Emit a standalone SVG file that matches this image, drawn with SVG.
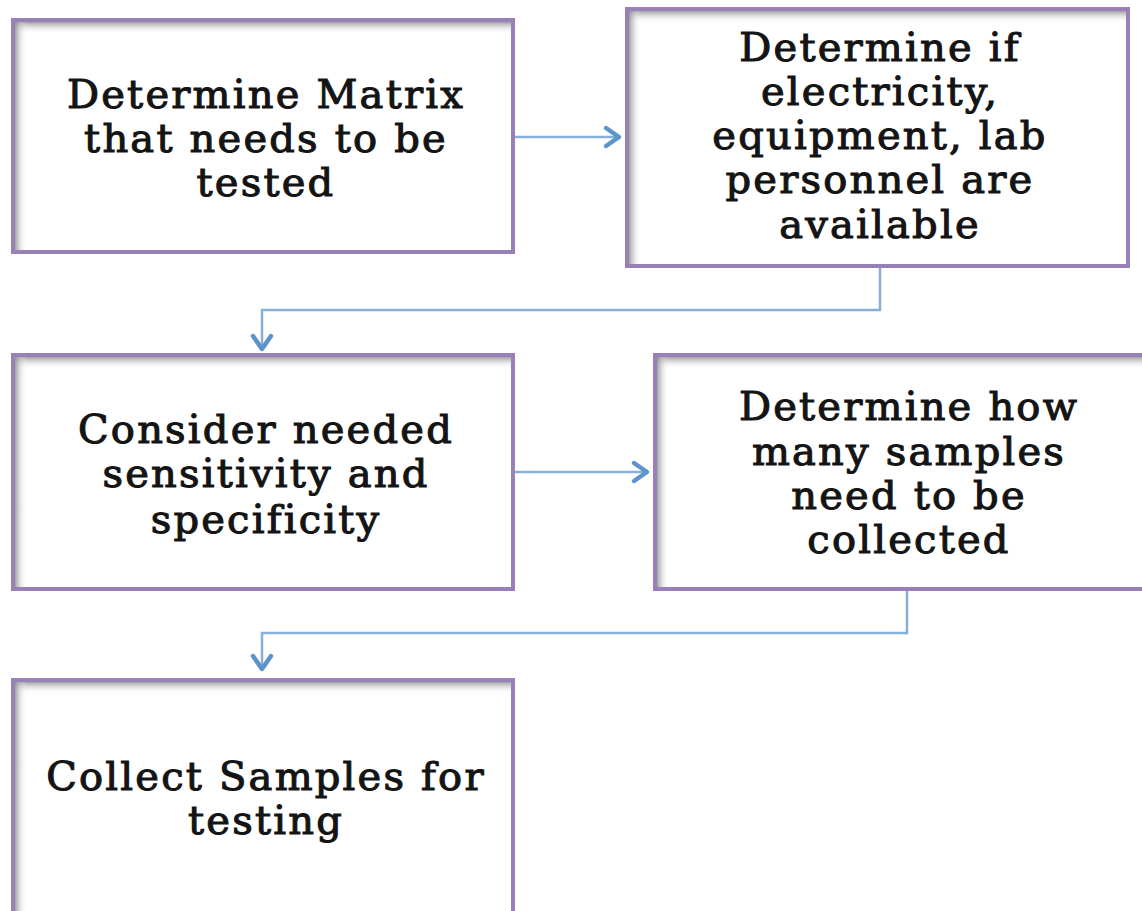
<svg xmlns="http://www.w3.org/2000/svg" width="1142" height="911" viewBox="0 0 1142 911">
  <style>
    .box { fill: #ffffff; stroke: #9a80b8; stroke-width: 4; }
    .label { font-family: "DejaVu Serif", "Liberation Serif", serif; font-size: 40px; letter-spacing: 2.2px; fill: #141414; stroke: #141414; stroke-width: 1.1; text-anchor: middle; }
    .link { fill: none; stroke: #86b0da; stroke-width: 2.5; }
    .head { fill: none; stroke: #5d93cb; stroke-width: 4.5; stroke-linecap: round; stroke-linejoin: round; }
  </style>
  <defs>
    <linearGradient id="shadeTop" x1="0" y1="0" x2="0" y2="1">
      <stop offset="0" stop-color="#8a8a8a" stop-opacity="0.8"/>
      <stop offset="1" stop-color="#ffffff" stop-opacity="0"/>
    </linearGradient>
    <linearGradient id="shadeLeft" x1="0" y1="0" x2="1" y2="0">
      <stop offset="0" stop-color="#8a8a8a" stop-opacity="0.8"/>
      <stop offset="1" stop-color="#ffffff" stop-opacity="0"/>
    </linearGradient>
  </defs>
  <rect width="1142" height="911" fill="#ffffff"/>

  <!-- connectors -->
  <g id="connectors">
    <path class="link" d="M515 137 H619"/>
    <path class="head" d="M606 128 L619 137 L606 146"/>
    <path class="link" d="M880 268 V310 H262 V348"/>
    <path class="head" d="M253 336 L262 349 L271 336"/>
    <path class="link" d="M515 472 H647"/>
    <path class="head" d="M634 463 L647 472 L634 481"/>
    <path class="link" d="M907 591 V633 H262 V668"/>
    <path class="head" d="M253 656 L262 669 L271 656"/>
  </g>

  <g id="node-matrix">
    <rect class="box" x="13" y="20" width="500" height="232"/>
    <rect x="15" y="22" width="496" height="12" fill="url(#shadeTop)"/>
    <rect x="15" y="22" width="12" height="228" fill="url(#shadeLeft)"/>
    <text class="label" x="266" y="108">Determine Matrix</text>
    <text class="label" x="266" y="152">that needs to be</text>
    <text class="label" x="266" y="196">tested</text>
  </g>

  <g id="node-resources">
    <rect class="box" x="627" y="9" width="501" height="257"/>
    <rect x="629" y="11" width="497" height="12" fill="url(#shadeTop)"/>
    <rect x="629" y="11" width="12" height="253" fill="url(#shadeLeft)"/>
    <text class="label" x="880" y="61">Determine if</text>
    <text class="label" x="880" y="105">electricity,</text>
    <text class="label" x="880" y="149">equipment, lab</text>
    <text class="label" x="880" y="193">personnel are</text>
    <text class="label" x="880" y="238">available</text>
  </g>

  <g id="node-sensitivity">
    <rect class="box" x="13" y="355" width="500" height="234"/>
    <rect x="15" y="357" width="496" height="12" fill="url(#shadeTop)"/>
    <rect x="15" y="357" width="12" height="230" fill="url(#shadeLeft)"/>
    <text class="label" x="266" y="443">Consider needed</text>
    <text class="label" x="266" y="487">sensitivity and</text>
    <text class="label" x="266" y="533">specificity</text>
  </g>

  <g id="node-count">
    <rect class="box" x="655" y="355" width="500" height="234"/>
    <rect x="657" y="357" width="496" height="12" fill="url(#shadeTop)"/>
    <rect x="657" y="357" width="12" height="230" fill="url(#shadeLeft)"/>
    <text class="label" x="909" y="420">Determine how</text>
    <text class="label" x="909" y="465">many samples</text>
    <text class="label" x="909" y="509">need to be</text>
    <text class="label" x="909" y="553">collected</text>
  </g>

  <g id="node-collect">
    <rect class="box" x="13" y="680" width="500" height="260"/>
    <rect x="15" y="682" width="496" height="12" fill="url(#shadeTop)"/>
    <rect x="15" y="682" width="12" height="256" fill="url(#shadeLeft)"/>
    <text class="label" x="266" y="790">Collect Samples for</text>
    <text class="label" x="266" y="834">testing</text>
  </g>
</svg>
